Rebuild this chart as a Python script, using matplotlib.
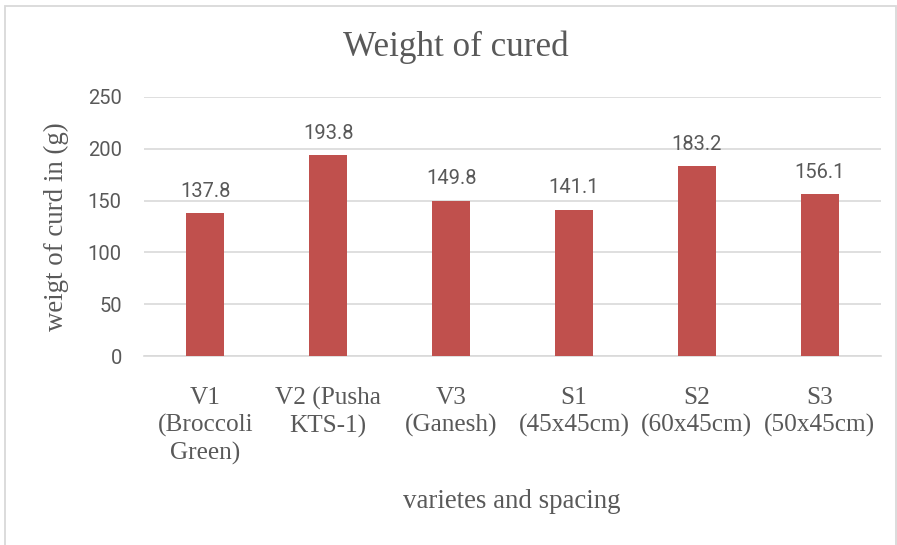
import matplotlib
matplotlib.use("Agg")
import matplotlib.pyplot as plt
from matplotlib.patches import Rectangle

categories = ["V1\n(Broccoli\nGreen)", "V2 (Pusha\nKTS-1)", "V3\n(Ganesh)",
              "S1\n(45x45cm)", "S2\n(60x45cm)", "S3\n(50x45cm)"]
values = [137.8, 193.8, 149.8, 141.1, 183.2, 156.1]
yticks = [0, 50, 100, 150, 200, 250]

W, H = 897, 545
fig = plt.figure(figsize=(W / 100, H / 100), dpi=100)
txt = "#595959"
serif = "Liberation Serif"
sans = "Roboto"

# figure border
fig.patches.append(Rectangle((5 / W, -0.01), (W - 6) / W, 1 - 6 / H + 0.01,
                             transform=fig.transFigure, fill=False,
                             edgecolor="#D9D9D9", linewidth=1.3))

left, right, top, bottom = 144, 881, 97, 356
ax = fig.add_axes([left / W, 1 - bottom / H, (right - left) / W, (bottom - top) / H])
x = range(len(values))
ax.bar(x, values, width=0.31, color="#C0504D", zorder=3)
ax.set_xlim(-0.5, len(values) - 0.5)
ax.set_ylim(0, 250)
ax.set_yticks(yticks)
ax.set_yticklabels([str(v) for v in yticks], fontfamily=sans, fontsize=14.5, color=txt)
ax.set_xticks(list(x))
ax.set_xticklabels(categories, fontfamily=serif, fontsize=18.2, color=txt, linespacing=1.3)
ax.tick_params(axis="both", length=0)
ax.tick_params(axis="x", pad=22)
ax.tick_params(axis="y", pad=16)
ax.grid(axis="y", color="#D9D9D9", linewidth=1.2, zorder=0)
for s in ["top", "right", "left"]:
    ax.spines[s].set_visible(False)
ax.spines["bottom"].set_color("#D9D9D9")
ax.spines["bottom"].set_linewidth(1.2)

for xi, v in zip(x, values):
    ax.annotate(f"{v:.1f}", (xi, v), xytext=(0, 9), textcoords="offset points",
                ha="center", va="bottom", fontfamily=sans, fontsize=14.5, color=txt)

fig.text(456 / W, 1 - 47 / H, "Weight of cured", ha="center", va="center",
         fontfamily=serif, fontsize=25.3, color=txt)
fig.text(56 / W, 1 - 227 / H, "weigt of curd in (g)", ha="center", va="center", rotation=90,
         fontfamily=serif, fontsize=19.4, color=txt)
fig.text(512 / W, 1 - 502 / H, "varietes and spacing", ha="center", va="center",
         fontfamily=serif, fontsize=19.4, color=txt)

fig.savefig("out.png", dpi=100)
